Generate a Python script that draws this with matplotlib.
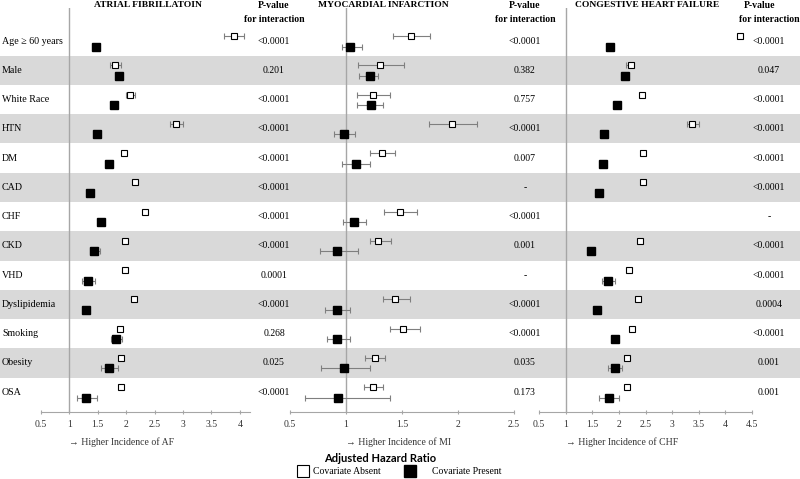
import numpy as np
import matplotlib
matplotlib.use("Agg")
import matplotlib.pyplot as plt

serif = ['Liberation Serif', 'DejaVu Serif']
sans = ['Lato', 'DejaVu Sans']
plt.rcParams['font.family'] = serif

nan = np.nan

# row labels (top to bottom)
rows = ["Age \u2265 60 years", "Male", "White Race", "HTN", "DM", "CAD", "CHF",
        "CKD", "VHD", "Dyslipidemia", "Smoking", "Obesity", "OSA"]

# Atrial fibrillation
af_absent = [3.90, 1.81, 2.07, 2.88, 1.96, 2.16, 2.33, 1.98, 1.98, 2.13, 1.89, 1.90, 1.91]
af_absent_lo = [3.73, 1.72, 1.99, 2.77, 1.93, 2.13, 2.29, 1.95, 1.95, 2.10, 1.86, 1.87, 1.88]
af_absent_hi = [4.08, 1.90, 2.15, 3.00, 1.99, 2.19, 2.37, 2.01, 2.01, 2.16, 1.92, 1.93, 1.94]
af_present = [1.46, 1.88, 1.78, 1.49, 1.69, 1.36, 1.55, 1.44, 1.33, 1.30, 1.82, 1.70, 1.29]
af_present_lo = [1.43, 1.84, 1.75, 1.46, 1.65, 1.33, 1.52, 1.36, 1.22, 1.27, 1.73, 1.55, 1.13]
af_present_hi = [1.49, 1.92, 1.81, 1.52, 1.73, 1.39, 1.58, 1.54, 1.45, 1.33, 1.92, 1.86, 1.48]
af_pvals = ["<0.0001", "0.201", "<0.0001", "<0.0001", "<0.0001", "<0.0001", "<0.0001",
            "<0.0001", "0.0001", "<0.0001", "0.268", "0.025", "<0.0001"]

# Myocardial infarction
mi_absent = [1.58, 1.30, 1.24, 1.95, 1.32, nan, 1.48, 1.29, nan, 1.44, 1.51, 1.26, 1.24]
mi_absent_lo = [1.42, 1.11, 1.10, 1.74, 1.21, nan, 1.34, 1.21, nan, 1.33, 1.39, 1.17, 1.16]
mi_absent_hi = [1.75, 1.52, 1.39, 2.17, 1.44, nan, 1.63, 1.40, nan, 1.57, 1.66, 1.35, 1.33]
mi_present = [1.04, 1.21, 1.22, 0.98, 1.09, nan, 1.07, 0.92, nan, 0.92, 0.92, 0.98, 0.93]
mi_present_lo = [0.96, 1.12, 1.10, 0.89, 0.96, nan, 0.97, 0.77, nan, 0.81, 0.83, 0.78, 0.63]
mi_present_hi = [1.14, 1.29, 1.33, 1.08, 1.21, nan, 1.18, 1.11, nan, 1.04, 1.04, 1.21, 1.39]
mi_pvals = ["<0.0001", "0.382", "0.757", "<0.0001", "0.007", "-", "<0.0001",
            "0.001", "-", "<0.0001", "<0.0001", "0.035", "0.173"]

# Congestive heart failure
chf_absent = [4.28, 2.22, 2.44, 3.38, 2.46, 2.46, nan, 2.39, 2.19, 2.36, 2.25, 2.16, 2.16]
chf_absent_lo = [4.25, 2.13, 2.41, 3.27, 2.43, 2.43, nan, 2.36, 2.16, 2.33, 2.22, 2.13, 2.13]
chf_absent_hi = [4.31, 2.28, 2.47, 3.51, 2.49, 2.49, nan, 2.42, 2.22, 2.39, 2.28, 2.19, 2.19]
chf_present = [1.84, 2.12, 1.96, 1.72, 1.71, 1.63, nan, 1.47, 1.80, 1.59, 1.92, 1.93, 1.81]
chf_present_lo = [1.81, 2.09, 1.93, 1.69, 1.68, 1.60, nan, 1.44, 1.69, 1.56, 1.89, 1.80, 1.63]
chf_present_hi = [1.87, 2.15, 1.99, 1.75, 1.74, 1.66, nan, 1.50, 1.92, 1.62, 1.95, 2.06, 2.01]
chf_pvals = ["<0.0001", "0.047", "<0.0001", "<0.0001", "<0.0001", "<0.0001", "-",
             "<0.0001", "<0.0001", "0.0004", "<0.0001", "0.001", "0.001"]

W, H = 800, 479
row0, step = 41, 29.27
ypos = row0 + step * np.arange(len(rows))
ax_top, ax_bot = 8, 412
gray = '#a6a6a6'
band = '#d9d9d9'

fig = plt.figure(figsize=(W / 100, H / 100), dpi=100)

# background: stripes + texts, in pixel coordinates
bg = fig.add_axes([0, 0, 1, 1])
bg.set_xlim(0, W)
bg.set_ylim(H, 0)
bg.axis('off')
for i, y in enumerate(ypos):
    if i % 2 == 1:
        bg.axhspan(y - step / 2, y + step / 2, color=band, lw=0, zorder=0)
    bg.text(2, y, rows[i], fontsize=7.2, va='center', ha='left', family=serif)

panels = [
    ("ATRIAL FIBRILLATOIN", 41, 250, (0.5, 4.18), np.arange(0.5, 4.01, 0.5),
     af_absent, af_absent_lo, af_absent_hi, af_present, af_present_lo, af_present_hi,
     af_pvals, 274, 148, "AF"),
    ("MYOCARDIAL INFARCTION", 290, 514, (0.5, 2.5), np.arange(0.5, 2.51, 0.5),
     mi_absent, mi_absent_lo, mi_absent_hi, mi_present, mi_present_lo, mi_present_hi,
     mi_pvals, 525, 383, "MI"),
    ("CONGESTIVE HEART FAILURE", 539, 752, (0.5, 4.5), np.arange(0.5, 4.51, 0.5),
     chf_absent, chf_absent_lo, chf_absent_hi, chf_present, chf_present_lo, chf_present_hi,
     chf_pvals, 769, 647, "CHF"),
]

for (title, x0, x1, xlim, ticks, a, alo, ahi, p, plo, phi,
     pv, pvx, tx, short) in panels:
    ax = fig.add_axes([x0 / W, 1 - ax_bot / H, (x1 - x0) / W, (ax_bot - ax_top) / H])
    ax.set_facecolor('none')
    ax.set_xlim(*xlim)
    ax.set_ylim(ax_bot, ax_top)
    for s in ['top', 'right', 'left']:
        ax.spines[s].set_visible(False)
    ax.spines['bottom'].set_color(gray)
    ax.set_yticks([])
    ax.set_xticks(ticks)
    ax.set_xticklabels(['%g' % t for t in ticks], fontsize=7, color='#333333')
    ax.tick_params(axis='x', direction='inout', length=3, color=gray, pad=4)
    ax.axvline(1, color=gray, lw=1, zorder=1)

    a = np.array(a)
    p = np.array(p)
    ax.errorbar(a, ypos - 5, xerr=[a - np.array(alo), np.array(ahi) - a], fmt='none',
                ecolor='#7f7f7f', elinewidth=0.8, capsize=2, capthick=0.8, zorder=2)
    ax.errorbar(p, ypos + 5.5, xerr=[p - np.array(plo), np.array(phi) - p], fmt='none',
                ecolor='#7f7f7f', elinewidth=0.8, capsize=2, capthick=0.8, zorder=2)
    ax.plot(a, ypos - 5, 's', ms=5, mfc='white', mec='black', mew=0.8, ls='none', zorder=3)
    ax.plot(p, ypos + 5.5, 's', ms=6, mfc='black', mec='black', ls='none', zorder=3)

    ax.text(1, 442, "\u2192 Higher Incidence of " + short, transform=ax.transData,
            fontsize=7, color='#333333', ha='left', va='center', clip_on=False)

    bg.text(tx, 5, title, fontsize=6.8, fontweight='bold', ha='center', va='center')
    bg.text(pvx - (9 if short == "CHF" else 0), 5, "P-value", fontsize=7,
            fontweight='bold', ha='center', va='center')
    bg.text(pvx, 19, "for interaction", fontsize=7, fontweight='bold',
            ha='center', va='center')
    for y, s in zip(ypos, pv):
        bg.text(pvx, y, s, fontsize=7, ha='center', va='center')

# legend
bg.text(380, 458, "Adjusted Hazard Ratio", fontsize=8, fontweight='bold',
        ha='center', va='center', family=sans)
bg.plot([303], [471], 's', ms=8, mfc='white', mec='black', mew=0.8)
bg.text(313, 471, "Covariate Absent", fontsize=7, ha='left', va='center')
bg.plot([410], [471], 's', ms=8, mfc='black', mec='black')
bg.text(432, 471, "Covariate Present", fontsize=7, ha='left', va='center')

fig.savefig("out.png", dpi=100)
